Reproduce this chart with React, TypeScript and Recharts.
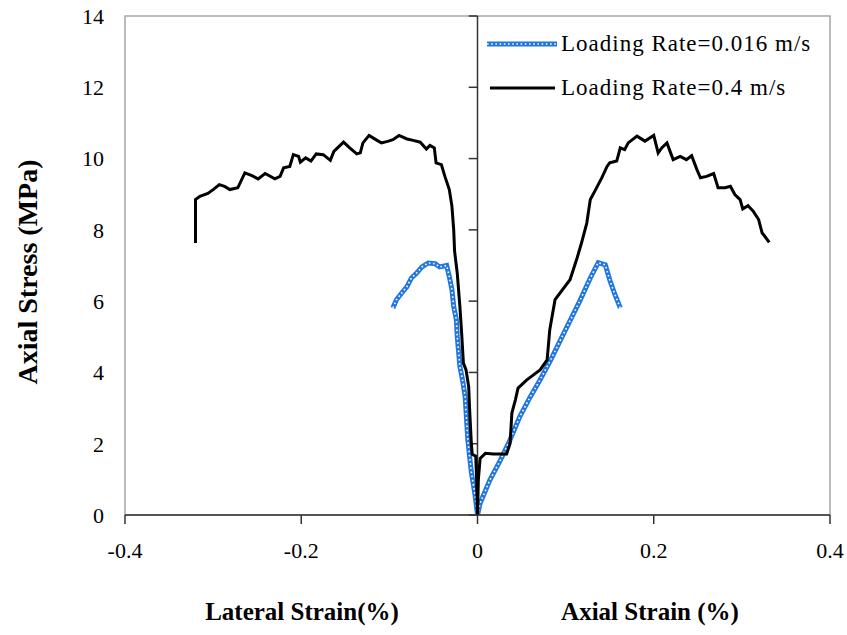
import { LineChart, Line, XAxis, YAxis, ReferenceLine, ReferenceArea } from "recharts";

document.body.style.margin = "0";

const serif = '"Liberation Serif", "Times New Roman", serif';

const xTicks = [-0.4, -0.2, 0, 0.2, 0.4];
const yTicks = [0, 2, 4, 6, 8, 10, 12, 14];

const seriesNames = ["Loading Rate=0.016 m/s", "Loading Rate=0.4 m/s"];

// [strain %, stress MPa]
const slowLateral = [
  [-0.096, 5.81], [-0.092, 6.04], [-0.086, 6.23], [-0.08, 6.41], [-0.075, 6.65],
  [-0.069, 6.79], [-0.063, 6.96], [-0.056, 7.07], [-0.048, 7.05], [-0.043, 6.96],
  [-0.035, 7.0], [-0.032, 6.69], [-0.029, 6.32], [-0.027, 5.85], [-0.024, 5.48],
  [-0.023, 5.01], [-0.02, 4.17], [-0.017, 3.79], [-0.014, 3.32], [-0.011, 2.11],
  [-0.007, 1.2], [-0.003, 0.6], [0, 0],
];

const slowAxial = [
  [0, 0], [0.003, 0.33], [0.014, 0.98], [0.026, 1.54], [0.037, 2.11],
  [0.048, 2.76], [0.06, 3.32], [0.069, 3.7], [0.082, 4.3], [0.099, 5.15],
  [0.116, 6.0], [0.128, 6.65], [0.137, 7.08], [0.145, 7.02], [0.15, 6.6],
  [0.156, 6.18], [0.162, 5.81],
];

const fastLateral = [
  [-0.32, 7.63], [-0.32, 8.85], [-0.315, 8.94], [-0.306, 9.02], [-0.3, 9.13],
  [-0.293, 9.27], [-0.287, 9.22], [-0.281, 9.13], [-0.272, 9.18], [-0.264, 9.6],
  [-0.256, 9.52], [-0.249, 9.43], [-0.241, 9.58], [-0.23, 9.43], [-0.224, 9.5],
  [-0.22, 9.74], [-0.213, 9.78], [-0.209, 10.11], [-0.203, 10.06], [-0.201, 9.9],
  [-0.195, 10.02], [-0.189, 9.93], [-0.183, 10.13], [-0.175, 10.11], [-0.167, 9.95],
  [-0.163, 10.2], [-0.152, 10.46], [-0.145, 10.3], [-0.137, 10.13], [-0.133, 10.16],
  [-0.13, 10.44], [-0.123, 10.65], [-0.114, 10.51], [-0.109, 10.44], [-0.101, 10.49],
  [-0.096, 10.53], [-0.089, 10.65], [-0.08, 10.55], [-0.073, 10.51], [-0.065, 10.46],
  [-0.058, 10.27], [-0.054, 10.37], [-0.049, 10.3], [-0.047, 9.88], [-0.041, 9.83],
  [-0.037, 9.5], [-0.032, 9.13], [-0.029, 8.66], [-0.027, 8.0], [-0.026, 7.4],
  [-0.023, 6.79], [-0.02, 5.85], [-0.018, 5.1], [-0.016, 4.26], [-0.013, 4.07],
  [-0.01, 3.6], [-0.009, 3.0], [-0.008, 2.5], [-0.007, 2.02], [-0.006, 1.7],
  [-0.002, 1.65], [-0.001, 1.0], [0, 0],
];

const fastAxial = [
  [0, 0], [0.001, 1.0], [0.003, 1.59], [0.009, 1.73], [0.018, 1.71],
  [0.033, 1.71], [0.037, 2.01], [0.039, 2.86], [0.043, 3.23], [0.046, 3.56],
  [0.056, 3.79], [0.071, 4.07], [0.079, 4.35], [0.082, 5.2], [0.088, 6.04],
  [0.105, 6.6], [0.113, 7.21], [0.118, 7.63], [0.124, 8.19], [0.128, 8.85],
  [0.133, 9.08], [0.141, 9.46], [0.147, 9.78], [0.15, 9.88], [0.158, 9.93],
  [0.162, 10.3], [0.167, 10.25], [0.171, 10.44], [0.181, 10.63], [0.19, 10.49],
  [0.2, 10.65], [0.205, 10.16], [0.209, 10.3], [0.215, 10.44], [0.222, 9.97],
  [0.23, 10.06], [0.237, 9.97], [0.243, 10.08], [0.249, 9.69], [0.253, 9.46],
  [0.26, 9.5], [0.268, 9.58], [0.273, 9.18], [0.281, 9.18], [0.287, 9.22],
  [0.292, 8.99], [0.298, 8.85], [0.301, 8.59], [0.307, 8.68], [0.313, 8.52],
  [0.319, 8.29], [0.323, 7.91], [0.326, 7.82], [0.331, 7.65],
];

const toRows = (pts: number[][]) => pts.map(([x, y]) => ({ x, y }));

const blue = "#2277dd";

// blue line drawn as a chain of small hollow squares: wide blue stroke with a white dashed core
function BlueChain({ data, id }: { data: { x: number; y: number }[]; id: string }) {
  return [
    <Line key={id + "a"} data={data} dataKey="y" type="linear" stroke={blue} strokeWidth={5}
      dot={false} activeDot={false} isAnimationActive={false} />,
    <Line key={id + "b"} data={data} dataKey="y" type="linear" stroke="#fff" strokeWidth={1.6}
      strokeDasharray="1.6 2.6" dot={false} activeDot={false} isAnimationActive={false} />,
  ];
}

export default function App() {
  const tickStyle = { fill: "#000", fontSize: 22, fontFamily: serif };
  return (
    <div style={{ position: "relative", width: 847, height: 635, background: "#fff", fontFamily: serif }}>
      <LineChart width={847} height={635} margin={{ top: 16, right: 17, left: 0, bottom: 0 }}>
        <ReferenceArea x1={-0.4} x2={0.4} y1={0} y2={14} fill="none" stroke="#a6a6a6" strokeWidth={1.5} />
        <XAxis
          type="number"
          dataKey="x"
          domain={[-0.4, 0.4]}
          ticks={xTicks}
          allowDataOverflow
          height={120}
          tickSize={9}
          tickMargin={18}
          axisLine={{ stroke: "#333", strokeWidth: 1.5 }}
          tickLine={{ stroke: "#333", strokeWidth: 1.5 }}
          tick={tickStyle}
        />
        <YAxis
          type="number"
          domain={[0, 14]}
          ticks={yTicks}
          width={125}
          axisLine={false}
          tickLine={false}
          tickSize={6}
          tickMargin={15}
          tick={tickStyle}
        />
        <ReferenceLine x={0} stroke="#333" strokeWidth={1.5} />
        {yTicks.map((t) => (
          <ReferenceLine key={t} segment={[{ x: -0.01, y: t }, { x: 0, y: t }]} stroke="#333" strokeWidth={1.5} />
        ))}
        {BlueChain({ data: toRows(slowLateral), id: "sl" })}
        {BlueChain({ data: toRows(slowAxial), id: "sa" })}
        <Line data={toRows(fastLateral)} dataKey="y" type="linear" stroke="#000" strokeWidth={3}
          dot={false} activeDot={false} isAnimationActive={false} />
        <Line data={toRows(fastAxial)} dataKey="y" type="linear" stroke="#000" strokeWidth={3}
          dot={false} activeDot={false} isAnimationActive={false} />
      </LineChart>

      {/* legend */}
      <svg style={{ position: "absolute", left: 486, top: 36 }} width={72} height={60}>
        <line x1={1} y1={8} x2={71} y2={8} stroke={blue} strokeWidth={5} />
        <line x1={1} y1={8} x2={71} y2={8} stroke="#fff" strokeWidth={1.6} strokeDasharray="1.6 2.6" />
        <line x1={4} y1={52} x2={69} y2={52} stroke="#000" strokeWidth={3} />
      </svg>
      <div style={{ position: "absolute", left: 561, top: 44, transform: "translateY(-50%)", fontSize: 23, letterSpacing: 1, whiteSpace: "nowrap" }}>
        {seriesNames[0]}
      </div>
      <div style={{ position: "absolute", left: 561, top: 88, transform: "translateY(-50%)", fontSize: 23, letterSpacing: 1, whiteSpace: "nowrap" }}>
        {seriesNames[1]}
      </div>

      {/* axis titles */}
      <div style={{ position: "absolute", left: 302, top: 612, transform: "translate(-50%,-50%)", fontSize: 25, fontWeight: "bold", whiteSpace: "nowrap" }}>
        Lateral Strain(%)
      </div>
      <div style={{ position: "absolute", left: 650, top: 612, transform: "translate(-50%,-50%)", fontSize: 25, fontWeight: "bold", whiteSpace: "nowrap" }}>
        Axial Strain (%)
      </div>
      <div style={{ position: "absolute", left: 28, top: 272, transform: "translate(-50%,-50%) rotate(-90deg)", fontSize: 28, fontWeight: "bold", whiteSpace: "nowrap" }}>
        Axial Stress (MPa)
      </div>
    </div>
  );
}
